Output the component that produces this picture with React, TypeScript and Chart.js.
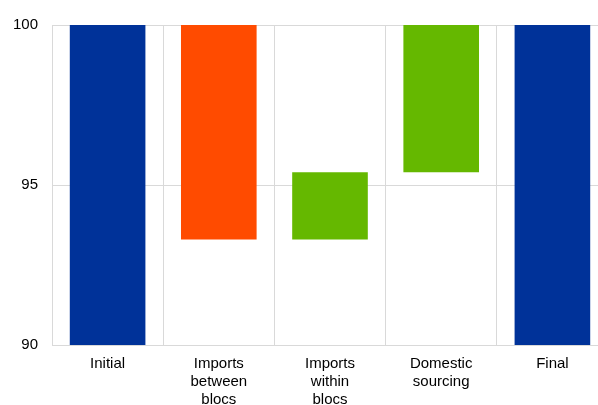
import React, { useEffect, useRef } from "react";
import Chart from "chart.js/auto";

const categories = [["Initial"], ["Imports", "between", "blocs"], ["Imports", "within", "blocs"], ["Domestic", "sourcing"], ["Final"]];
const barStart = [90, 93.3, 93.3, 95.4, 90];
const barEnd = [100, 100, 95.4, 100, 100];
const barColors = ["#003299", "#ff4b00", "#65b800", "#65b800", "#003299"];
const yTicks = [90, 95, 100];

const App: React.FC = () => {
  const chartRef = useRef<HTMLCanvasElement | null>(null);
  const chartInstance = useRef<Chart | null>(null);

  useEffect(() => {
    document.body.style.margin = "0";
    document.body.style.overflow = "hidden";
    if (chartInstance.current) chartInstance.current.destroy();
    const ctx = chartRef.current?.getContext("2d");
    if (ctx) {
      chartInstance.current = new Chart(ctx, {
        type: "bar",
        data: {
          labels: categories,
          datasets: [
            {
              data: barStart.map((s, i) => [s, barEnd[i]]),
              backgroundColor: barColors,
              barPercentage: 0.68,
              categoryPercentage: 1,
            },
          ],
        },
        options: {
          animation: false,
          responsive: false,
          layout: { padding: { top: 25, left: 0, right: 2, bottom: 0 } },
          plugins: { legend: { display: false }, tooltip: { enabled: false } },
          scales: {
            x: {
              afterFit: (axis) => {
                axis.height = 75;
              },
              grid: { offset: true, color: "#d9d9d9", drawTicks: false },
              border: { color: "#d9d9d9" },
              ticks: { color: "#000", font: { family: "Liberation Sans, Arial", size: 15 }, padding: 10, maxRotation: 0 },
            },
            y: {
              min: 90,
              max: 100,
              afterFit: (axis) => {
                axis.width = 52;
              },
              afterBuildTicks: (axis) => {
                axis.ticks = yTicks.map((v) => ({ value: v }));
              },
              grid: { color: "#d9d9d9", drawTicks: false },
              border: { display: false },
              ticks: { color: "#000", font: { family: "Liberation Sans, Arial", size: 15 }, padding: 14 },
            },
          },
        },
      });
    }
    return () => {
      if (chartInstance.current) {
        chartInstance.current.destroy();
        chartInstance.current = null;
      }
    };
  }, []);

  return (
    <div style={{ width: 598, height: 405, overflow: "hidden", background: "#fff" }}>
      <canvas ref={chartRef} width="610" height="420"></canvas>
    </div>
  );
};

export default App;
